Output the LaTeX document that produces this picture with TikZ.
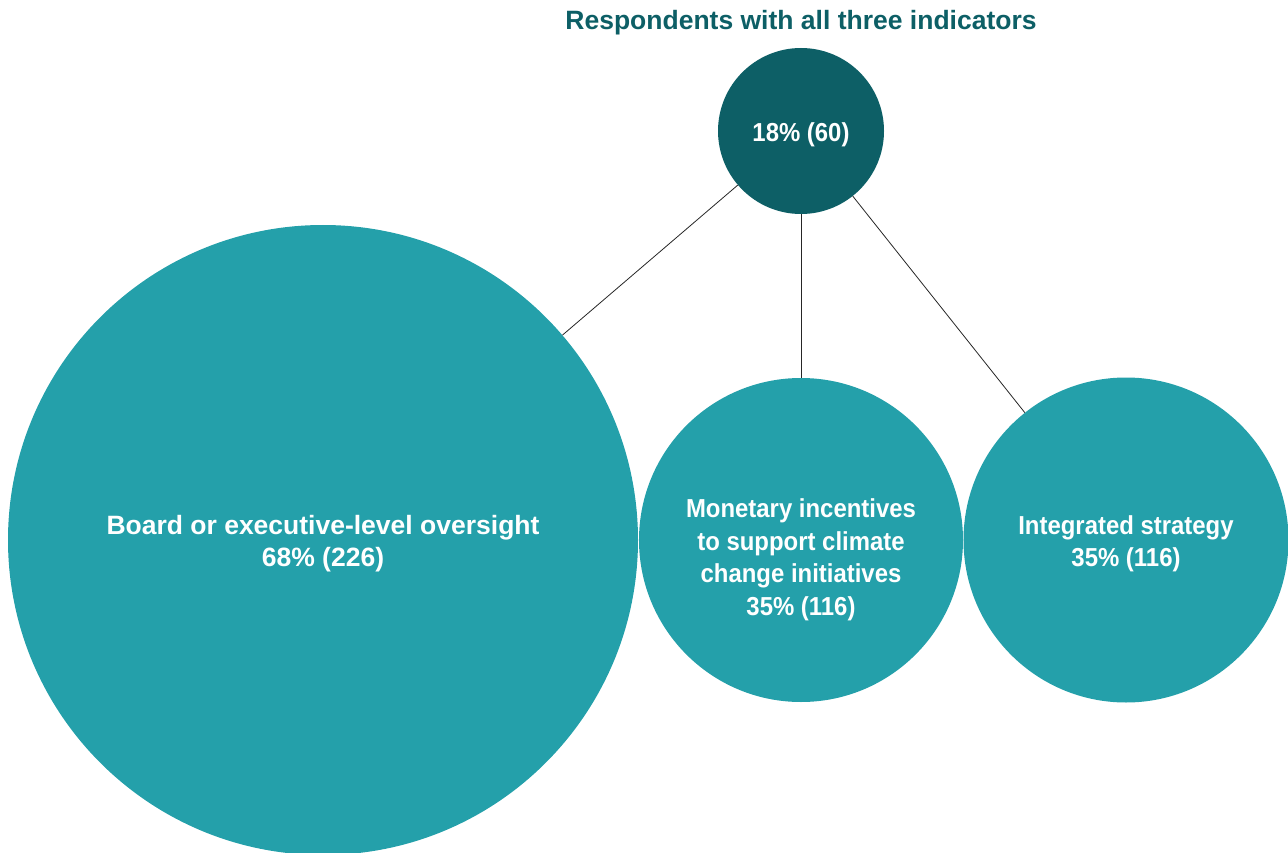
\documentclass[tikz,border=0pt]{standalone}
\usepackage{fontspec}
\setmainfont{Liberation Sans}
\newfontfamily\narrowfont[FakeStretch=0.92]{Liberation Sans}
\definecolor{bubbleteal}{HTML}{24A0AA}
\definecolor{darkteal}{HTML}{0D5F66}
\begin{document}
\begin{tikzpicture}[x=1pt,y=-1pt,
  bubble/.style={circle,fill=bubbleteal,inner sep=0pt},
  caption/.style={text=white,align=center,yshift=-4pt},
  wide/.style={font=\bfseries\fontsize{26.5}{32}\selectfont},
  narrow/.style={font=\narrowfont\bfseries\fontsize{26}{32.5}\selectfont},
  link/.style={draw=black!85,line width=0.8pt}]
\useasboundingbox (0,0) rectangle (1288,853);
\node(heading)[wide,text=darkteal] at (801,23){Respondents with all three indicators};
\node(allthree)[bubble,fill=darkteal,minimum size=166,
  label={[caption,narrow]center:18\% (60)}] at (801,131){};
\node(board)[bubble,minimum size=630,
  label={[caption,wide]center:Board or executive-level oversight\\68\% (226)}] at (323,540){};
\node(incentives)[bubble,minimum size=324,
  label={[caption,narrow,yshift=-16pt]center:Monetary incentives\\to support climate\\change initiatives\\35\% (116)}] at (801,540){};
\node(strategy)[bubble,minimum size=325,
  label={[caption,narrow]center:Integrated strategy\\35\% (116)}] at (1126,540){};
\draw[link] (allthree) -- (board);
\draw[link] (allthree) -- (incentives);
\draw[link] (allthree) -- (strategy);
\end{tikzpicture}
\end{document}
